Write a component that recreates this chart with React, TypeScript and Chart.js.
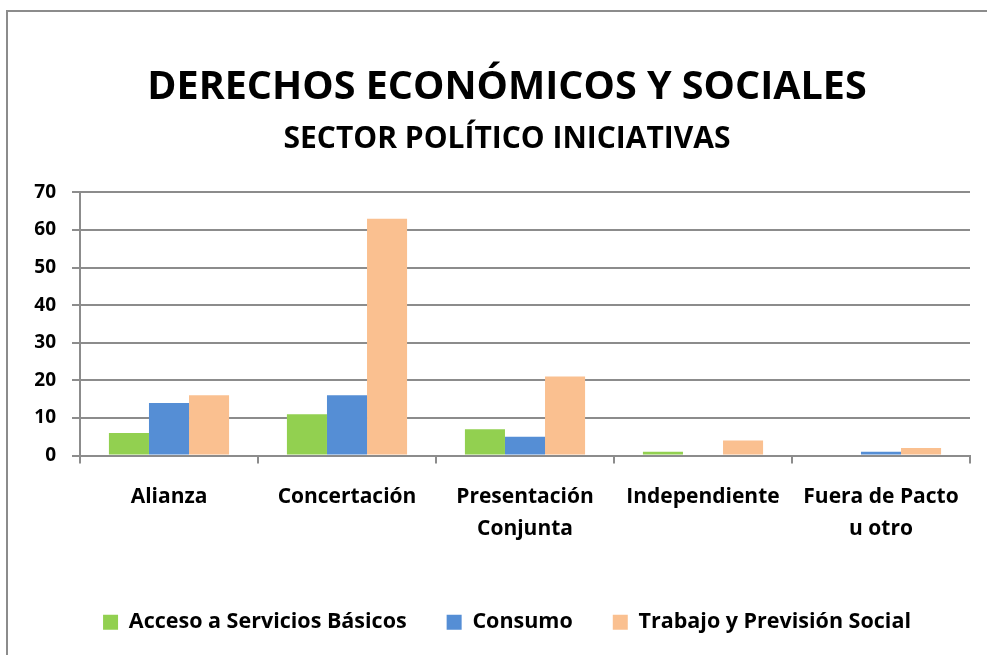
import React, { useEffect, useRef } from "react";
import { Chart, registerables } from "chart.js";

Chart.register(...registerables);

const categories: (string | string[])[] = [
  "Alianza",
  "Concertación",
  ["Presentación", "Conjunta"],
  "Independiente",
  ["Fuera de Pacto", "u otro"],
];
const accesoServicios = [6, 11, 7, 1, 0];
const consumo = [14, 16, 5, 0, 1];
const trabajoPrevision = [16, 63, 21, 4, 2];
const seriesNames = ["Acceso a Servicios Básicos", "Consumo", "Trabajo y Previsión Social"];
const titleText = "DERECHOS ECONÓMICOS Y SOCIALES";
const subtitleText = "SECTOR POLÍTICO INICIATIVAS";

const FONT = "'Open Sans', Lato, sans-serif";
const GRID = "#8c8c8c";

export default function App() {
  const ref = useRef<HTMLCanvasElement | null>(null);
  useEffect(() => {
    if (!ref.current) return;
    const chart = new Chart(ref.current, {
      type: "bar",
      data: {
        labels: categories as any,
        datasets: [
          { label: seriesNames[0], data: accesoServicios, backgroundColor: "#92D050" },
          { label: seriesNames[1], data: consumo, backgroundColor: "#558ED5" },
          { label: seriesNames[2], data: trabajoPrevision, backgroundColor: "#FAC090" },
        ],
      },
      options: {
        responsive: false,
        animation: false,
        maintainAspectRatio: false,
        layout: { padding: { left: 0, right: 0, top: 0, bottom: 12 } },
        datasets: { bar: { categoryPercentage: 0.675, barPercentage: 1 } },
        plugins: {
          title: {
            display: true,
            text: titleText,
            color: "#000",
            font: { family: FONT, size: 39.5, weight: "bold", lineHeight: 1.2 },
            padding: { top: 53, bottom: 10 },
          },
          subtitle: {
            display: true,
            text: subtitleText,
            color: "#000",
            font: { family: FONT, size: 30, weight: "bold", lineHeight: 1.2 },
            padding: { top: 0, bottom: 35 },
          },
          legend: {
            position: "bottom",
            labels: {
              color: "#000",
              font: { family: FONT, size: 21.5, weight: "bold" },
              boxWidth: 15,
              boxHeight: 15,
              padding: 40,
            },
          },
          tooltip: { enabled: false },
        },
        scales: {
          x: {
            grid: {
              offset: true,
              drawOnChartArea: false,
              drawTicks: true,
              tickLength: 8,
              color: GRID,
              lineWidth: 2,
            },
            border: { display: true, color: GRID, width: 2 },
            ticks: {
              color: "#000",
              font: { family: FONT, size: 21, weight: "bold", lineHeight: 1.52 },
              maxRotation: 0,
              autoSkip: false,
              padding: 18,
            },
            afterFit: (s: any) => {
              s.height = 116;
            },
          },
          y: {
            min: 0,
            max: 70,
            ticks: {
              stepSize: 10,
              color: "#000",
              font: { family: FONT, size: 19, weight: "bold" },
              padding: 16,
            },
            grid: { color: GRID, lineWidth: 2, tickLength: 8 },
            border: { display: true, color: GRID, width: 2 },
            afterFit: (s: any) => {
              s.width = 73;
            },
          },
          yRightSpace: {
            type: "linear",
            position: "right",
            min: 0,
            max: 70,
            grid: { display: false, drawTicks: false },
            border: { display: false },
            ticks: { display: false },
            afterFit: (s: any) => {
              s.width = 37;
            },
          },
        },
      },
    });
    return () => chart.destroy();
  }, []);

  return (
    <div style={{ position: "absolute", left: 0, top: 0, width: 987, height: 655, overflow: "hidden", background: "#fff" }}>
      <div
        style={{
          position: "absolute",
          left: 6,
          top: 10,
          width: 1100,
          height: 800,
          borderLeft: "2px solid #8c8c8c",
          borderTop: "2px solid #8c8c8c",
        }}
      />
      <canvas ref={ref} width={1000} height={644} style={{ position: "absolute", left: 7, top: 11, width: 1000, height: 644 }} />
    </div>
  );
}
